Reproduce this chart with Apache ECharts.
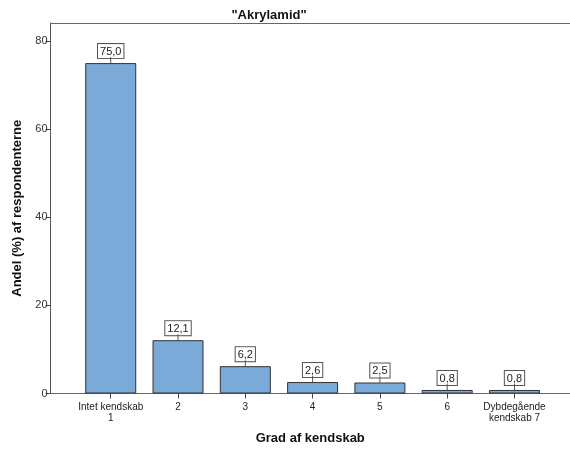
<!DOCTYPE html>
<html>
<head>
<meta charset="utf-8">
<script src="https://cdn.jsdelivr.net/npm/echarts@6/dist/echarts.min.js"></script>
<style>html,body{margin:0;padding:0;background:#fff}#c{width:570px;height:450px}</style>
</head>
<body>
<div id="c"></div>
<script>
var categories = ["Intet kendskab\n1", "2", "3", "4", "5", "6", "Dybdegående\nkendskab 7"];
var values = [75.0, 12.1, 6.2, 2.6, 2.5, 0.8, 0.8];
var yTicks = [0, 20, 40, 60, 80];
var titleText = '"Akrylamid"';
var xName = "Grad af kendskab";
var yName = "Andel (%) af respondenterne";

var offset = 0.895;
var positions = categories.map(function (c, i) { return offset + i; });
var seriesData = values.map(function (v, i) { return [positions[i], v]; });
function fmt(v) { return v.toFixed(1).replace('.', ','); }

var font = '"Liberation Sans", Arial, sans-serif';
var chart = echarts.init(document.getElementById('c'), null, {renderer: 'canvas'});
chart.setOption({
  animation: false,
  backgroundColor: '#fff',
  title: {
    text: titleText, left: 264, top: 4, textAlign: 'center',
    textStyle: {fontFamily: font, fontSize: 13, fontWeight: 'bold', color: '#111'}
  },
  grid: {left: 50.5, right: 0, top: 23, bottom: 56.5, show: false},
  xAxis: [{
    type: 'value', min: 0, max: 7.72,
    name: xName, nameLocation: 'middle', nameGap: 38,
    nameTextStyle: {fontFamily: font, fontSize: 13, fontWeight: 'bold', color: '#111'},
    axisLine: {show: true, lineStyle: {color: '#666', width: 1}},
    axisTick: {show: true, customValues: positions, length: 5, lineStyle: {color: '#444'}},
    axisLabel: {
      customValues: positions, fontFamily: font, fontSize: 10, color: '#222', margin: 8, lineHeight: 11,
      formatter: function (v) {
        var idx = Math.round(v - offset);
        return categories[idx] !== undefined ? categories[idx] : '';
      }
    },
    splitLine: {show: false}
  }, {
    type: 'value', min: 0, max: 7.72, position: 'top',
    axisLine: {show: true, onZero: false, lineStyle: {color: '#666', width: 1}},
    axisTick: {show: false}, axisLabel: {show: false}, splitLine: {show: false}
  }],
  yAxis: {
    type: 'value', min: 0, max: 84.1, interval: 20,
    name: yName, nameLocation: 'middle', nameGap: 25, nameRotate: 90,
    nameTextStyle: {fontFamily: font, fontSize: 13, fontWeight: 'bold', color: '#111'},
    axisLine: {show: true, lineStyle: {color: '#555', width: 1}},
    axisTick: {show: true, length: 5, customValues: yTicks, lineStyle: {color: '#444'}},
    axisLabel: {
      fontFamily: font, fontSize: 11, color: '#333', margin: 3,
      customValues: yTicks
    },
    splitLine: {show: false}
  },
  series: [{
    type: 'bar',
    xAxisIndex: 0,
    data: seriesData,
    barWidth: 51,
    itemStyle: {color: '#7BAAD9', borderColor: '#333', borderWidth: 1},
    label: {
      show: true, position: 'top', distance: 0,
      formatter: function (p) { return '{box|' + fmt(p.value[1]) + '}\n{ln|}'; },
      rich: {
        box: {fontFamily: font, fontSize: 11, color: '#222', backgroundColor: '#fff', borderColor: '#555', borderWidth: 1, padding: [2, 2, 1, 2], lineHeight: 12, align: 'center'},
        ln: {width: 1, height: 6, backgroundColor: '#555', align: 'center', lineHeight: 6}
      }
    }
  }]
});
</script>
</body>
</html>
